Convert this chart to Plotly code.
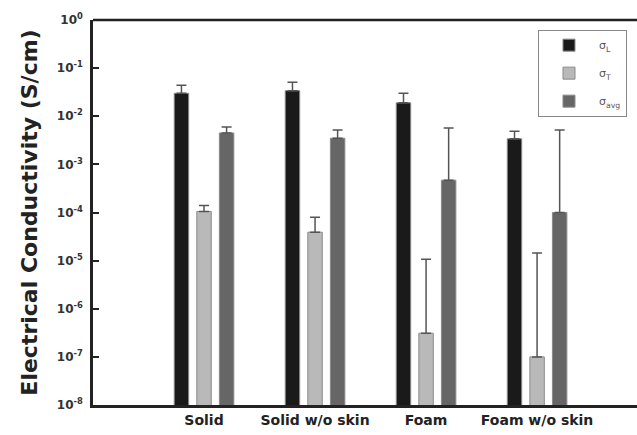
import plotly.graph_objects as go

categories = ["Solid", "Solid w/o skin", "Foam", "Foam w/o skin"]
positions = [1, 2, 3, 4]

sigma_L = [0.030, 0.034, 0.019, 0.0034]
sigma_L_err_top = [0.044, 0.051, 0.030, 0.0049]

sigma_T = [1.05e-4, 3.9e-5, 3.1e-7, 1.0e-7]
sigma_T_err_top = [1.4e-4, 8.0e-5, 1.07e-5, 1.44e-5]

sigma_avg = [4.5e-3, 3.5e-3, 4.7e-4, 1.0e-4]
sigma_avg_err_top = [6.0e-3, 5.2e-3, 5.7e-3, 5.2e-3]

y_tickvals = [1, 1e-1, 1e-2, 1e-3, 1e-4, 1e-5, 1e-6, 1e-7, 1e-8]
y_ticktext = ["<b>10<sup>0</sup></b>", "<b>10<sup>-1</sup></b>", "<b>10<sup>-2</sup></b>",
              "<b>10<sup>-3</sup></b>", "<b>10<sup>-4</sup></b>", "<b>10<sup>-5</sup></b>",
              "<b>10<sup>-6</sup></b>", "<b>10<sup>-7</sup></b>", "<b>10<sup>-8</sup></b>"]

series = [
    ("σ<sub>L</sub>", sigma_L, sigma_L_err_top, "#1a1a1a"),
    ("σ<sub>T</sub>", sigma_T, sigma_T_err_top, "#b9b9b9"),
    ("σ<sub>avg</sub>", sigma_avg, sigma_avg_err_top, "#666666"),
]

fig = go.Figure()
for i, (name, vals, tops, color) in enumerate(series):
    fig.add_trace(go.Bar(
        x=positions, y=vals, name=name, legendgroup="g%d" % i,
        marker=dict(color=color, line=dict(color="#8a8a8a", width=1)),
        error_y=dict(type="data", symmetric=False,
                     array=[t - v for t, v in zip(tops, vals)],
                     arrayminus=[0] * len(vals),
                     color="#555555", thickness=1.5, width=5),
    ))

FONT = "DejaVu Sans, Liberation Sans, Arial, sans-serif"

fig.update_layout(
    width=637, height=435,
    margin=dict(l=93, r=0, t=20, b=30, autoexpand=False),
    paper_bgcolor="white", plot_bgcolor="white",
    barmode="group", bargap=0.39, bargroupgap=0.36,
    font=dict(family=FONT, color="#222222"),
    showlegend=True,
    legend=dict(x=0.818, y=0.975, xanchor="left", yanchor="top",
                bordercolor="#888888", borderwidth=1, bgcolor="white",
                font=dict(size=11, color="#555555"),
                itemwidth=50, tracegroupgap=9),
    xaxis=dict(range=[0, 4.9], tickvals=positions, automargin=False,
               ticktext=["<b>%s</b>" % c for c in categories],
               tickfont=dict(size=14, color="#222222"),
               showline=True, linecolor="#222222", linewidth=3,
               ticks="", showgrid=False, zeroline=False),
    yaxis=dict(type="log", range=[-8, 0], tickvals=y_tickvals, ticktext=y_ticktext,
               automargin=False, ticklabelstandoff=5,
               tickfont=dict(size=12, color="#333333"),
               showline=True, linecolor="#222222", linewidth=2.5,
               ticks="inside", ticklen=6, tickwidth=2, tickcolor="#222222",
               showgrid=False, zeroline=False,
               title=dict(text="<b>Electrical Conductivity (S/cm)</b>",
                          font=dict(size=22, color="#222222"), standoff=14)),
    shapes=[dict(type="line", xref="paper", yref="paper", x0=0, x1=1, y0=1, y1=1,
                 line=dict(color="#222222", width=2.5))],
)

fig.write_html("out.html", config={"displayModeBar": False},
               post_script="document.body.style.margin='0';document.body.style.padding='0';")
